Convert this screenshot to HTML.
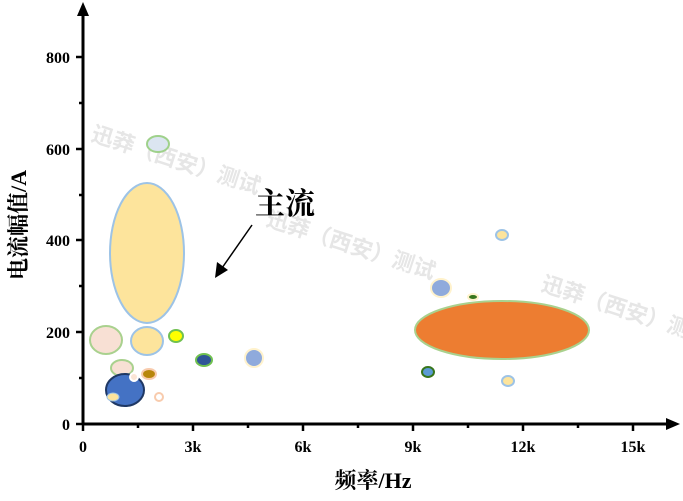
<!DOCTYPE html><html><head><meta charset="utf-8"><style>body{margin:0;background:#fff}svg{display:block}</style></head><body>
<svg width="683" height="501" xmlns="http://www.w3.org/2000/svg" font-family="Liberation Serif, Noto Serif CJK SC, serif">
<g fill="#e6e6e6" font-size="22" font-weight="bold" font-family="Liberation Sans, Noto Sans CJK SC, sans-serif">
<text x="90" y="140" transform="rotate(18 90 140)">迅莽（西安）测试</text>
<text x="265" y="225" transform="rotate(18 265 225)">迅莽（西安）测试</text>
<text x="540" y="290" transform="rotate(18 540 290)">迅莽（西安）测试</text>
</g>
<g stroke="#000" stroke-width="3" fill="none">
<line x1="83" y1="14" x2="83" y2="425"/><line x1="82" y1="424" x2="668" y2="424"/>
</g>
<polygon points="83,2 77,16 89,16" fill="#000"/><polygon points="680,424 666,418 666,430" fill="#000"/>
<g stroke="#000" stroke-width="2.5">
<line x1="76" y1="57" x2="83" y2="57"/><line x1="76" y1="149" x2="83" y2="149"/><line x1="76" y1="240" x2="83" y2="240"/><line x1="76" y1="332" x2="83" y2="332"/><line x1="76" y1="424" x2="83" y2="424"/>
<line x1="79" y1="103" x2="83" y2="103"/><line x1="79" y1="195" x2="83" y2="195"/><line x1="79" y1="286" x2="83" y2="286"/><line x1="79" y1="378" x2="83" y2="378"/>
<line x1="83" y1="424" x2="83" y2="431"/><line x1="193" y1="424" x2="193" y2="431"/><line x1="303" y1="424" x2="303" y2="431"/><line x1="413" y1="424" x2="413" y2="431"/><line x1="523" y1="424" x2="523" y2="431"/><line x1="633" y1="424" x2="633" y2="431"/>
<line x1="138" y1="424" x2="138" y2="428"/><line x1="248" y1="424" x2="248" y2="428"/><line x1="358" y1="424" x2="358" y2="428"/><line x1="468" y1="424" x2="468" y2="428"/><line x1="578" y1="424" x2="578" y2="428"/>
</g>
<g font-size="16" font-weight="bold" text-anchor="end">
<text x="70" y="63">800</text><text x="70" y="155">600</text><text x="70" y="246">400</text><text x="70" y="338">200</text><text x="70" y="430">0</text>
</g>
<g font-size="16" font-weight="bold" text-anchor="middle">
<text x="83" y="452">0</text><text x="193" y="452">3k</text><text x="303" y="452">6k</text><text x="413" y="452">9k</text><text x="523" y="452">12k</text><text x="633" y="452">15k</text>
</g>
<text x="373" y="488" font-size="22" font-weight="bold" text-anchor="middle">频率/Hz</text>
<text transform="translate(26 225) rotate(-90)" font-size="22" font-weight="bold" text-anchor="middle">电流幅值/A</text>
<text x="255" y="214" font-size="30" font-weight="bold">主流</text>
<line x1="252" y1="225" x2="222" y2="268" stroke="#000" stroke-width="1.5"/>
<polygon points="215,278 217,262 228,270" fill="#000"/>
<g stroke-width="2">
<ellipse cx="158" cy="144" rx="11" ry="8" fill="#dbe5f1" stroke="#9fd18b"/>
<ellipse cx="147" cy="253" rx="37" ry="70" fill="#fde49c" stroke="#9dc3e6"/>
<ellipse cx="106" cy="340" rx="16" ry="14" fill="#f8e0d4" stroke="#a9d18e"/>
<ellipse cx="147" cy="341" rx="16" ry="14" fill="#fde49c" stroke="#9dc3e6"/>
<ellipse cx="176" cy="336" rx="7" ry="6" fill="#ffff00" stroke="#70c050"/>
<ellipse cx="122" cy="368" rx="11" ry="8" fill="#f8e0d4" stroke="#a9d18e"/>
<ellipse cx="149" cy="374" rx="7" ry="5" fill="#b8860b" stroke="#f8cbad"/>
<ellipse cx="125" cy="390" rx="19" ry="16" fill="#4472c4" stroke="#1f3864"/>
<ellipse cx="113" cy="397" rx="6" ry="4" fill="#fde49c" stroke="#9dc3e6" stroke-width="1"/>
<ellipse cx="134" cy="377" rx="4" ry="4" fill="#fbe5d6" stroke="#fff"/>
<ellipse cx="159" cy="397" rx="4" ry="4" fill="#fff" stroke="#f8cbad"/>
<ellipse cx="204" cy="360" rx="8" ry="6" fill="#2f5597" stroke="#70c050"/>
<ellipse cx="254" cy="358" rx="9" ry="9" fill="#8faadc" stroke="#fff2cc"/>
<ellipse cx="502" cy="330" rx="87" ry="29" fill="#ed7d31" stroke="#a9d18e"/>
<ellipse cx="502" cy="235" rx="6" ry="5" fill="#fde49c" stroke="#9dc3e6"/>
<ellipse cx="441" cy="288" rx="10" ry="9" fill="#8faadc" stroke="#fff2cc"/>
<ellipse cx="473" cy="297" rx="5" ry="3" fill="#38761d" stroke="#fff2cc"/>
<ellipse cx="428" cy="372" rx="6" ry="5" fill="#5b9bd5" stroke="#38761d"/>
<ellipse cx="508" cy="381" rx="6" ry="5" fill="#fde49c" stroke="#9dc3e6"/>
</g>
</svg></body></html>
